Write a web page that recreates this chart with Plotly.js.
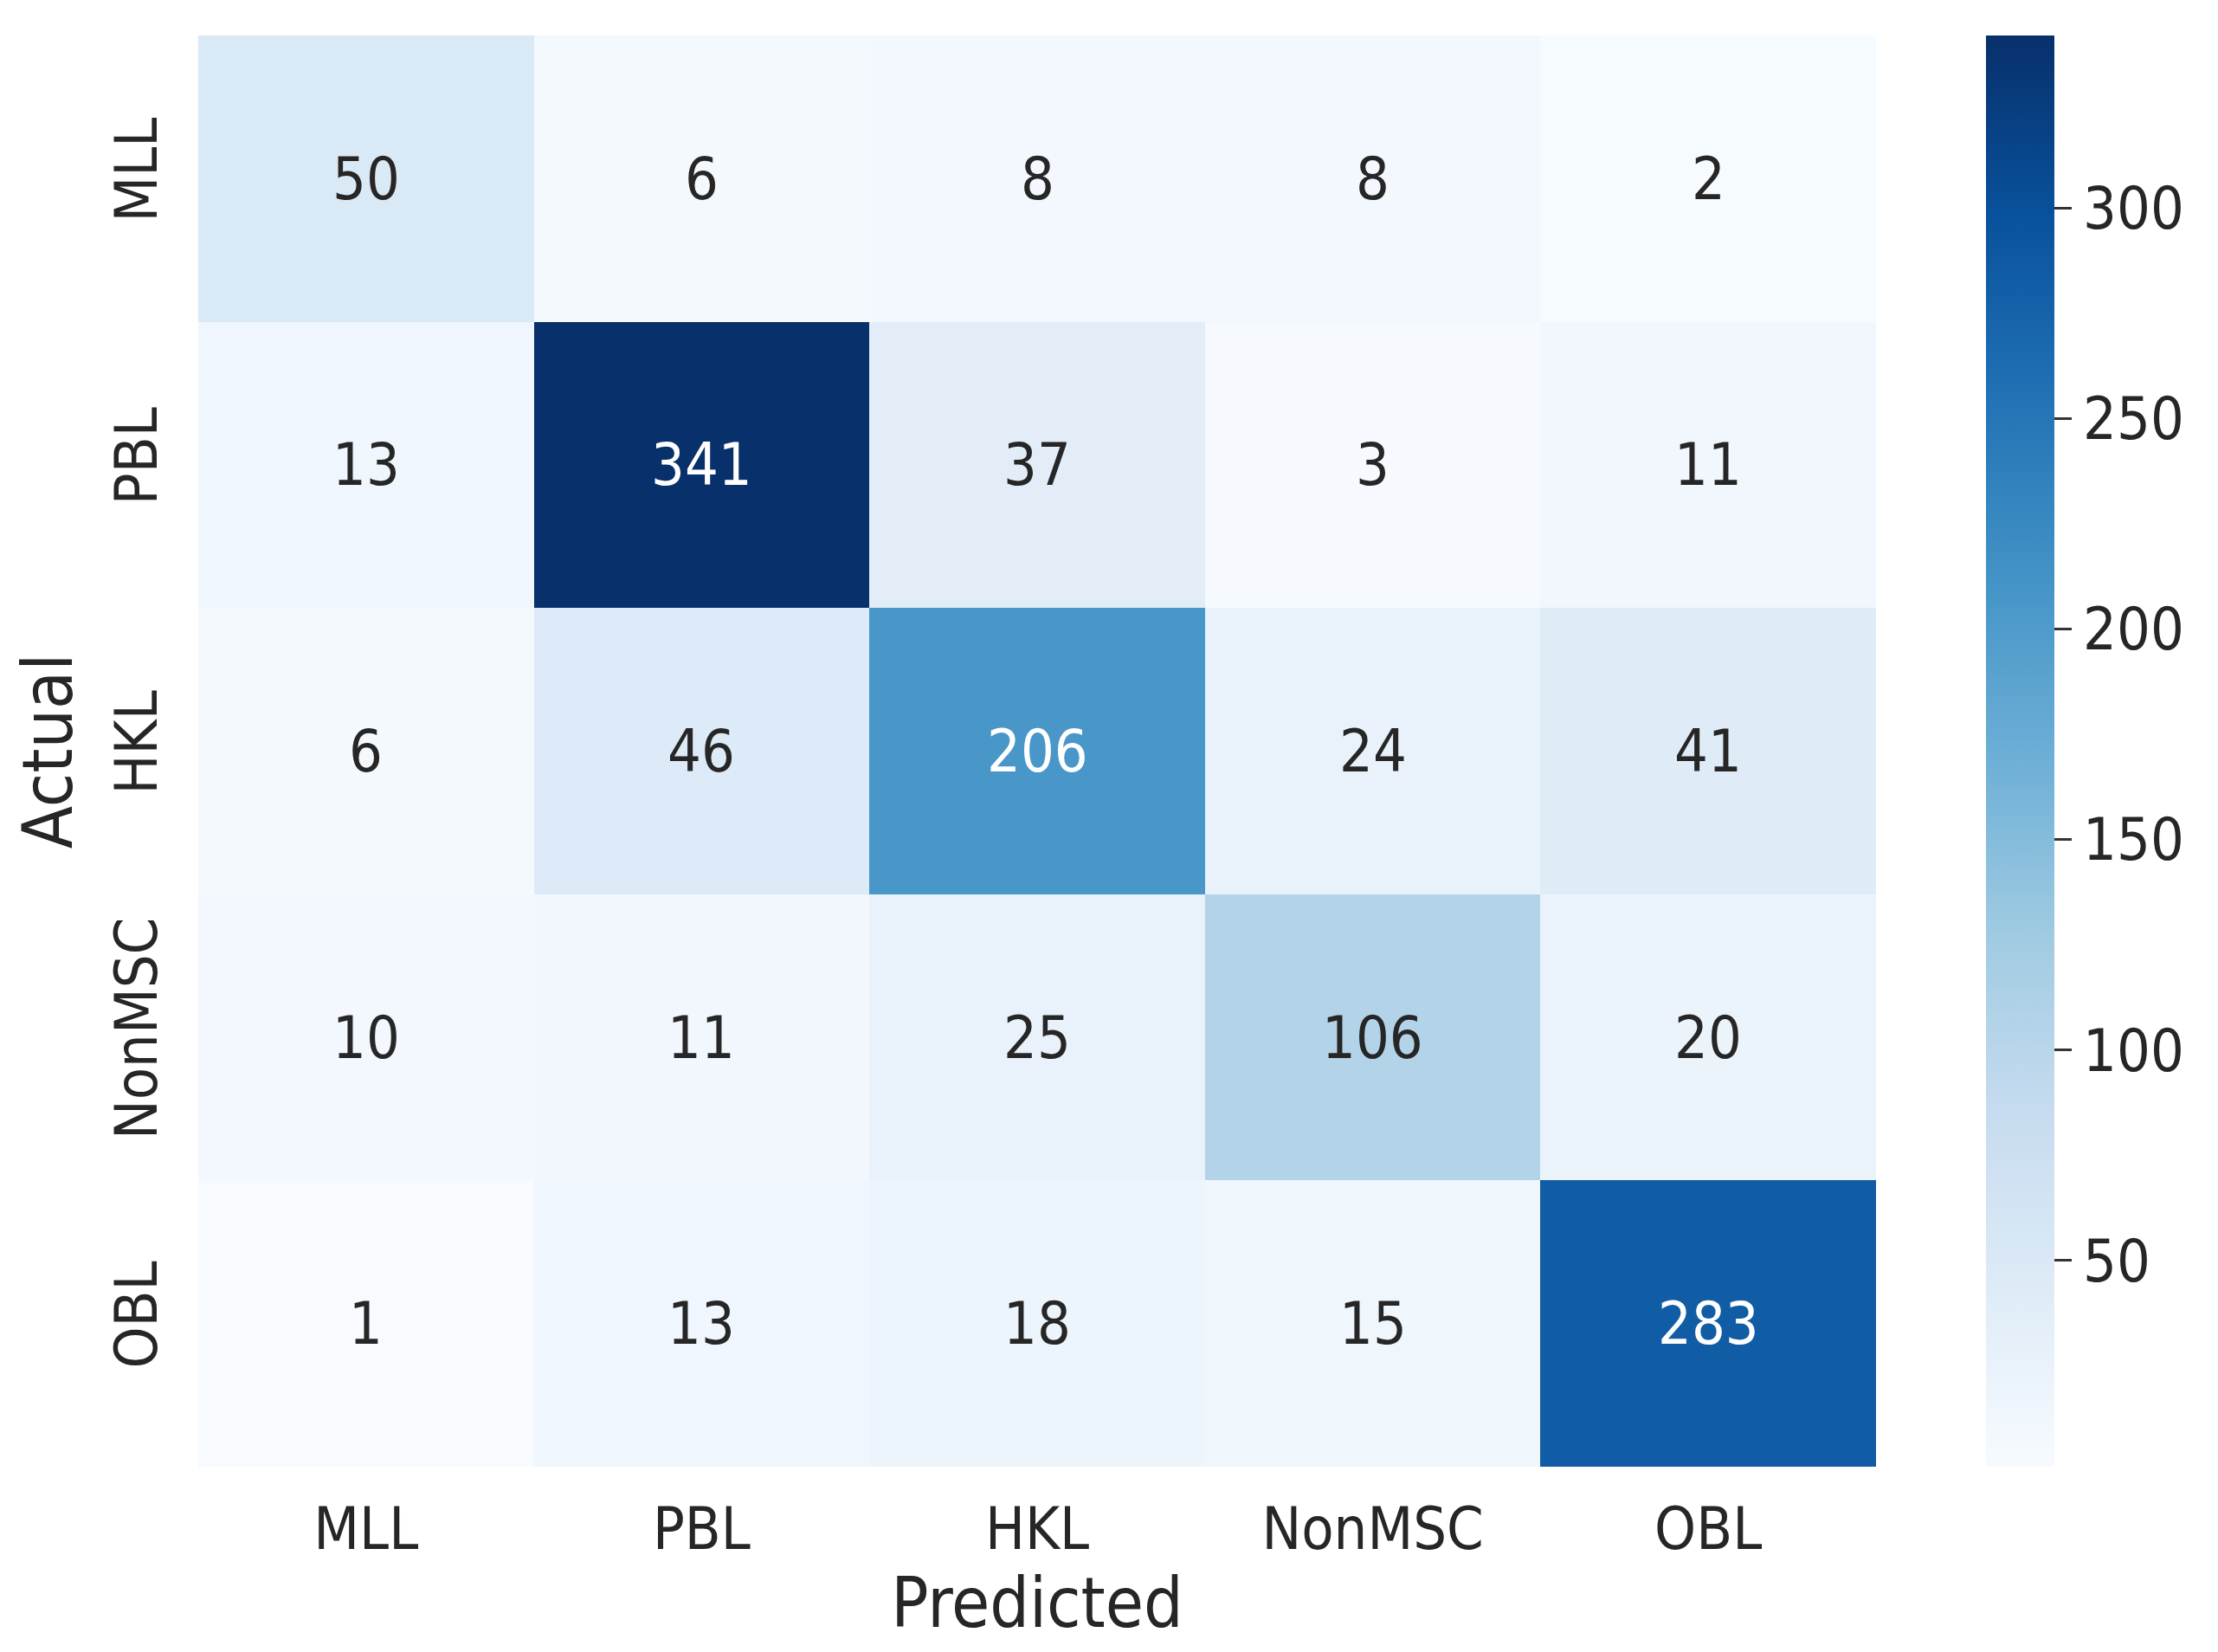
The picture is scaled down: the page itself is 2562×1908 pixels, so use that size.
<!DOCTYPE html>
<html>
<head>
<meta charset="utf-8">
<script src="https://cdn.plot.ly/plotly-3.0.1.min.js"></script>
<style>html,body{margin:0;padding:0;background:#fff;}#chart{width:2562px;height:1908px;}</style>
</head>
<body>
<div id="chart"></div>
<script>
const predicted = ["MLL", "PBL", "HKL", "NonMSC", "OBL"];
const actual = ["MLL", "PBL", "HKL", "NonMSC", "OBL"];
const rowMLL = [50, 6, 8, 8, 2];
const rowPBL = [13, 341, 37, 3, 11];
const rowHKL = [6, 46, 206, 24, 41];
const rowNonMSC = [10, 11, 25, 106, 20];
const rowOBL = [1, 13, 18, 15, 283];
const colorbarTicks = [50, 100, 150, 200, 250, 300];

const z = [rowMLL, rowPBL, rowHKL, rowNonMSC, rowOBL];
const blues = ["#f7fbff", "#deebf7", "#c6dbef", "#9ecae1", "#6baed6", "#4292c6", "#2171b5", "#08519c", "#08306b"];
const colorscale = blues.map((c, i) => [i / (blues.length - 1), c]);

let zmin = Infinity, zmax = -Infinity;
z.forEach(r => r.forEach(v => { zmin = Math.min(zmin, v); zmax = Math.max(zmax, v); }));

const FONT = "DejaVu Sans Condensed, DejaVu Sans, sans-serif";
const annotations = [];
z.forEach((row, i) => row.forEach((v, j) => {
  const frac = (v - zmin) / (zmax - zmin);
  annotations.push({
    x: predicted[j], y: actual[i], xref: "x", yref: "y", text: String(v),
    showarrow: false,
    font: {family: FONT, size: 68, color: frac > 0.55 ? "#ffffff" : "#262626"}
  });
}));

const trace = {
  type: "heatmap",
  x: predicted, y: actual, z: z,
  zmin: zmin, zmax: zmax,
  colorscale: colorscale,
  xgap: 0, ygap: 0,
  hoverinfo: "skip",
  colorbar: {
    x: 1.0655, xanchor: "left", xpad: 0,
    y: 0.5, yanchor: "middle", ypad: 0,
    len: 1, lenmode: "fraction",
    thickness: 79, outlinewidth: 0,
    tickvals: colorbarTicks,
    tickprefix: "\u2009",
    ticks: "outside", ticklen: 20, tickwidth: 3, tickcolor: "#333333",
    tickfont: {family: FONT, size: 68, color: "#262626"}
  }
};

const layout = {
  width: 2562, height: 1908,
  margin: {l: 229, r: 395, t: 41, b: 214},
  paper_bgcolor: "#ffffff", plot_bgcolor: "#ffffff",
  font: {family: FONT, color: "#262626"},
  xaxis: {
    type: "category", showgrid: false, zeroline: false, ticks: "", showline: false,
    tickfont: {family: FONT, size: 68, color: "#262626"},
    ticklabelstandoff: 26,
    title: {text: "Predicted", font: {family: FONT, size: 80, color: "#262626"}, standoff: 10}
  },
  yaxis: {
    type: "category", autorange: "reversed", showgrid: false, zeroline: false, ticks: "", showline: false,
    tickangle: -90,
    tickfont: {family: FONT, size: 68, color: "#262626"},
    ticklabelstandoff: 33,
    title: {text: "Actual", font: {family: FONT, size: 80, color: "#262626"}, standoff: 8}
  },
  annotations: annotations
};

Plotly.newPlot("chart", [trace], layout, {displayModeBar: false, staticPlot: true});
</script>
</body>
</html>
